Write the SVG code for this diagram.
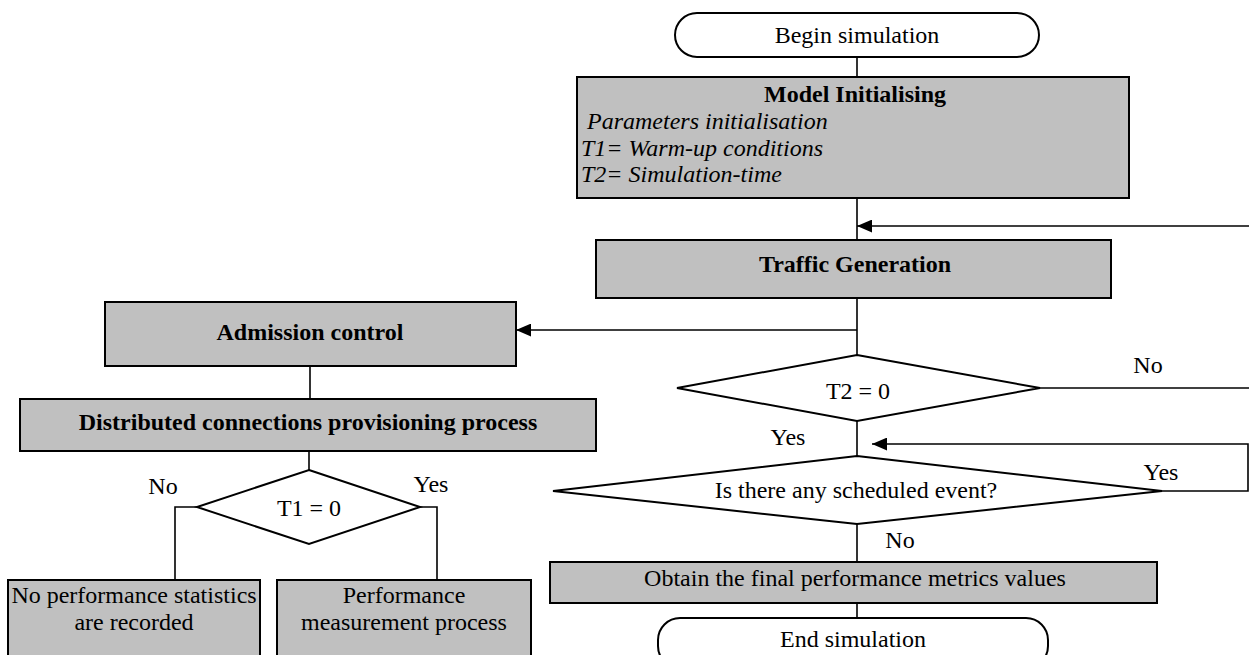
<svg xmlns="http://www.w3.org/2000/svg" width="1249" height="655" viewBox="0 0 1249 655">
  <style>
    text { font-family: "Liberation Serif", "Times New Roman", serif; font-size: 24px; fill: #000; }
    .c { text-anchor: middle; }
    .b { font-weight: bold; }
    .i { font-style: italic; }
    .box { fill: #c0c0c0; stroke: #000; stroke-width: 2; }
    .term { fill: #fff; stroke: #000; stroke-width: 2; }
    .dia { fill: #fff; stroke: #000; stroke-width: 2; }
    .wire { fill: none; stroke: #000; stroke-width: 1.6; }
  </style>
  <defs>
    <marker id="arrow" viewBox="0 0 10 10" refX="10" refY="5" markerWidth="9" markerHeight="9" markerUnits="userSpaceOnUse" orient="auto">
      <path d="M0,0 L10,5 L0,10 z" fill="#000"/>
    </marker>
    <marker id="arrowBig" viewBox="0 0 14 12" refX="14" refY="6" markerWidth="15" markerHeight="13" markerUnits="userSpaceOnUse" orient="auto">
      <path d="M0,0 L14,6 L0,12 z" fill="#000"/>
    </marker>
  </defs>

  <!-- connectors -->
  <g id="connectors">
    <path class="wire" d="M857,57 V77"/>
    <path class="wire" d="M857,198 V240"/>
    <path class="wire" d="M1249,226 H857" marker-end="url(#arrowBig)"/>
    <path class="wire" d="M857,298 V355"/>
    <path class="wire" d="M857,330 H516" marker-end="url(#arrowBig)"/>
    <path class="wire" d="M310,366 V399"/>
    <path class="wire" d="M309,451 V470"/>
    <path class="wire" d="M197,507 H175 V580"/>
    <path class="wire" d="M420,507 H437 V580"/>
    <path class="wire" d="M1040,388 H1249"/>
    <path class="wire" d="M857,421 V456"/>
    <path class="wire" d="M1162,491 H1248 V444 H872" marker-end="url(#arrowBig)"/>
    <path class="wire" d="M857,524 V562"/>
    <path class="wire" d="M857,603 V618"/>
    <text class="c" x="1148" y="373">No</text>
    <text class="c" x="788" y="445">Yes</text>
    <text class="c" x="1161" y="480">Yes</text>
    <text class="c" x="900" y="548">No</text>
    <text class="c" x="163" y="494">No</text>
    <text class="c" x="431" y="492">Yes</text>
  </g>

  <g id="begin">
    <rect class="term" x="675" y="13" width="364" height="44" rx="22" ry="22"/>
    <text class="c" x="857" y="43">Begin simulation</text>
  </g>

  <g id="model-init">
    <rect class="box" x="577" y="77" width="552" height="121"/>
    <text class="c b" x="855" y="102">Model Initialising</text>
    <text class="i" x="581" y="129" xml:space="preserve"> Parameters initialisation</text>
    <text class="i" x="581" y="156">T1= Warm-up conditions</text>
    <text class="i" x="581" y="182">T2= Simulation-time</text>
  </g>

  <g id="traffic">
    <rect class="box" x="596" y="240" width="515" height="58"/>
    <text class="c b" x="855" y="272">Traffic Generation</text>
  </g>

  <g id="admission">
    <rect class="box" x="105" y="302" width="411" height="64"/>
    <text class="c b" x="310" y="340">Admission control</text>
  </g>

  <g id="provisioning">
    <rect class="box" x="20" y="399" width="576" height="52"/>
    <text class="c b" x="308" y="430">Distributed connections provisioning process</text>
  </g>

  <g id="t1-check">
    <polygon class="dia" points="309,470 420,507 309,544 197,507"/>
    <text class="c" x="309" y="516">T1 = 0</text>
  </g>

  <g id="no-stats">
    <rect class="box" x="8" y="580" width="252" height="90"/>
    <text class="c" x="134" y="603">No performance statistics</text>
    <text class="c" x="134" y="630">are recorded</text>
  </g>

  <g id="measurement">
    <rect class="box" x="277" y="580" width="254" height="90"/>
    <text class="c" x="404" y="603">Performance</text>
    <text class="c" x="404" y="630">measurement process</text>
  </g>

  <g id="t2-check">
    <polygon class="dia" points="857,355 1040,388 857,421 677,388"/>
    <text class="c" x="858" y="399">T2 = 0</text>
  </g>

  <g id="event-check">
    <polygon class="dia" points="857,456 1162,491 857,524 553,491"/>
    <text class="c" x="856" y="498">Is there any scheduled event?</text>
  </g>

  <g id="final-metrics">
    <rect class="box" x="550" y="562" width="607" height="41"/>
    <text class="c" x="855" y="586">Obtain the final performance metrics values</text>
  </g>

  <g id="end">
    <rect class="term" x="658" y="618" width="390" height="50" rx="22" ry="22"/>
    <text class="c" x="853" y="647">End simulation</text>
  </g>
</svg>
